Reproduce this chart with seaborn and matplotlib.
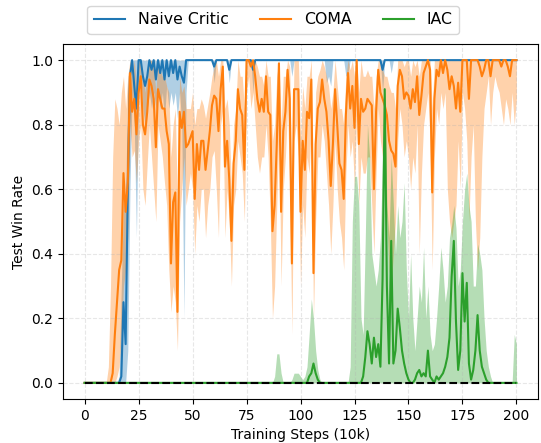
import numpy as np
import pandas as pd
import seaborn as sns
import matplotlib.pyplot as plt

# training steps (10k), one point per step
steps = np.arange(201)

labels = ['Naive Critic', 'COMA', 'IAC']
colors = ['#1f77b4', '#ff7f0e', '#2ca02c']

# Naive Critic
critic_mean = [0.0] * 17 + [
    0.02, 0.25, 0.12, 0.60,
    0.95, 1.0, 0.92, 0.85, 1.0, 1.0, 0.95, 0.92, 0.95, 1.0,
    0.97, 1.0, 0.94, 1.0, 0.96, 1.0, 0.94, 1.0, 0.95, 1.0,
    0.96, 1.0, 0.94, 0.98, 0.95, 0.93, 1.0,
] + [1.0] * 12 + [0.98] + [1.0] * 6 + [0.97] + [1.0] * 10 + [0.97] + [1.0] * 59 + [0.97] + [1.0] * 62
critic_lo = [0.0] * 17 + [
    0.0, 0.0, 0.0, 0.10,
    0.60, 0.90, 0.80, 0.45, 0.90, 0.95, 0.85, 0.80, 0.85, 0.90,
    0.85, 0.90, 0.85, 0.90, 0.85, 0.90, 0.82, 0.92, 0.85, 0.90,
    0.86, 0.90, 0.82, 0.90, 0.80, 0.20, 0.90,
] + [1.0] * 12 + [0.93] + [1.0] * 6 + [0.93] + [1.0] * 10 + [0.90] + [1.0] * 17 + [0.95] + [1.0] * 15 \
  + [0.93, 0.95, 0.92] + [1.0] * 6 + [0.95, 0.96] + [1.0] * 15 + [0.90] + [1.0] * 3 + [0.96] + [1.0] * 58
critic_hi = [0.0] * 16 + [0.02, 0.30, 0.55, 0.60, 0.90] + [1.0] * 180

# COMA
coma_mean = [0.0] * 13 + [
    0.03, 0.15, 0.25, 0.35, 0.38, 0.65, 0.53, 0.62,
    0.96, 0.84, 0.88, 0.77, 0.90, 0.95, 0.80, 0.77, 0.84, 0.94,
    0.92, 0.88, 0.73, 0.91, 0.88, 0.85, 0.85, 0.78, 0.74, 0.37,
    0.56, 0.59, 0.22, 0.84, 0.79, 0.84, 0.73, 0.74, 0.76, 0.78,
    0.57, 0.74, 0.66, 0.75, 0.75, 0.66, 0.72, 0.78, 0.86, 0.89,
    0.88, 0.78, 0.91, 0.98, 0.67, 0.75, 0.63, 0.44, 0.68, 0.75,
    0.91, 0.85, 0.83, 0.66, 1.00, 1.00, 0.98, 1.00, 0.95, 0.88,
    0.84, 0.88, 0.84, 0.95, 0.84, 0.83, 0.47, 0.55, 0.74, 0.99,
    0.53, 0.78, 0.84, 0.97, 0.88, 0.37, 0.91, 0.91, 0.91, 0.53,
    0.75, 0.66, 0.84, 0.82, 0.94, 0.34, 0.74, 0.85, 0.87, 0.94,
    0.88, 0.84, 0.75, 0.61, 0.74, 0.91, 0.80, 0.68, 0.66, 0.57,
    0.83, 0.96, 0.85, 0.92, 0.79, 1.00, 0.74, 0.88, 0.84, 0.85,
    0.88, 0.87, 0.86, 0.60, 0.84, 0.97, 0.90, 0.88, 0.86, 0.83,
    0.75, 0.72, 0.71, 0.67, 0.92, 0.97, 0.95, 0.88, 0.90, 0.89,
    0.85, 0.91, 0.87, 0.95, 0.83, 0.89, 0.96, 0.98, 1.00, 0.97,
    0.59, 0.88, 0.97, 0.95, 1.00, 0.96, 1.00, 0.97, 0.91, 0.95,
    0.92, 0.85, 0.93, 0.84, 1.00, 1.00, 1.00, 0.88, 1.00, 1.00,
    1.00, 1.00, 0.98, 0.95, 0.97, 1.00, 1.00, 0.95, 1.00, 1.00,
    1.00, 1.00, 0.98, 1.00, 1.00, 0.98, 0.95, 1.00, 1.00, 1.00,
]
coma_lo = [0.0] * 13 + [
    0.0, 0.0, 0.02, 0.05, 0.15, 0.30, 0.35, 0.45,
    0.80, 0.70, 0.72, 0.62, 0.75, 0.80, 0.60, 0.55, 0.68, 0.80,
    0.70, 0.60, 0.50, 0.80, 0.75, 0.70, 0.62, 0.55, 0.35, 0.22,
    0.30, 0.25, 0.10, 0.50, 0.60, 0.70, 0.55, 0.60, 0.65, 0.60,
    0.40, 0.55, 0.50, 0.60, 0.60, 0.45, 0.55, 0.60, 0.70, 0.72,
    0.60, 0.45, 0.80, 0.85, 0.45, 0.60, 0.50, 0.30, 0.55, 0.60,
    0.75, 0.70, 0.65, 0.50, 0.90, 0.95, 0.85, 0.90, 0.80, 0.70,
    0.65, 0.70, 0.70, 0.80, 0.70, 0.50, 0.20, 0.30, 0.55, 0.80,
    0.30, 0.60, 0.70, 0.85, 0.60, 0.15, 0.75, 0.80, 0.70, 0.30,
    0.55, 0.45, 0.70, 0.65, 0.80, 0.20, 0.50, 0.70, 0.70, 0.80,
    0.75, 0.65, 0.55, 0.40, 0.55, 0.75, 0.60, 0.50, 0.45, 0.35,
    0.65, 0.80, 0.70, 0.75, 0.60, 0.85, 0.55, 0.70, 0.65, 0.65,
    0.70, 0.70, 0.55, 0.40, 0.65, 0.85, 0.75, 0.70, 0.60, 0.50,
    0.35, 0.30, 0.40, 0.50, 0.75, 0.85, 0.80, 0.70, 0.75, 0.70,
    0.60, 0.70, 0.65, 0.80, 0.40, 0.65, 0.80, 0.85, 0.90, 0.75,
    0.35, 0.70, 0.85, 0.80, 0.90, 0.85, 0.90, 0.60, 0.50, 0.45,
    0.50, 0.55, 0.75, 0.60, 0.90, 0.85, 0.75, 0.50, 0.70, 0.80,
    0.50, 0.35, 0.45, 0.70, 0.85, 0.90, 0.95, 0.80, 0.90, 0.95,
    0.92, 0.90, 0.85, 0.80, 0.88, 0.85, 0.80, 0.90, 0.80, 0.88,
]
coma_hi = [0.0] * 11 + [0.05, 0.30] + [
    0.70, 0.88, 0.85, 0.80, 0.90, 0.95, 0.85, 0.95,
    1.0, 0.95, 1.0, 0.92, 1.0, 1.0, 0.95, 0.90, 0.97, 1.0,
    1.0, 0.98, 0.90, 1.0, 0.97, 0.95, 0.95, 0.92, 0.90, 0.70,
    0.80, 0.85, 0.55, 0.95, 0.90, 0.92, 0.85, 0.85, 0.85, 0.90,
    0.80, 0.85, 0.85, 0.88, 0.86, 0.82, 0.86, 0.90, 0.95, 0.98,
    1.0, 0.95, 1.0, 1.0, 0.85, 0.88, 0.80, 0.60, 0.80, 0.85,
    1.0, 0.95, 0.95, 0.85, 1.0, 1.0, 1.0, 1.0, 1.0, 0.98,
    0.95, 0.95, 0.92, 1.0, 0.95, 0.95, 0.75, 0.80, 0.95, 1.0,
    0.80, 0.95, 0.95, 1.0, 0.98, 0.60, 1.0, 1.0, 1.0, 0.75,
    0.92, 0.85, 0.95, 0.95, 1.0, 0.60, 0.90, 0.95, 0.97, 1.0,
    0.98, 0.95, 0.92, 0.85, 0.90, 1.0, 0.92, 0.85, 0.85, 0.80,
    0.95, 1.0, 0.97, 1.0, 0.95, 1.0, 0.90, 1.0, 0.95, 0.95,
    0.97, 0.95, 0.95, 0.85, 0.95, 1.0, 1.0, 0.97, 0.95, 0.95,
    0.92, 0.90, 0.90, 0.85, 1.0, 1.0, 1.0, 0.98, 1.0, 1.0,
    0.95, 1.0, 0.98, 1.0, 0.95, 1.0, 1.0, 1.0, 1.0, 1.0,
    0.85, 1.0, 1.0, 1.0, 1.0, 1.0, 1.0, 1.0, 1.0, 1.0,
] + [1.0] * 30

# IAC
iac_mean = [0.0] * 103 + [
    0.0, 0.02, 0.03, 0.06, 0.03, 0.01, 0.0, 0.0,
] + [0.0] * 18 + [
    0.02, 0.08, 0.16, 0.12, 0.06, 0.14, 0.08, 0.12, 0.05, 0.32, 0.91, 0.30,
    0.06, 0.44, 0.06, 0.10, 0.23, 0.17, 0.10, 0.06, 0.03, 0.01,
    0.0, 0.0, 0.01, 0.03, 0.04, 0.02, 0.03, 0.02, 0.10, 0.02,
    0.01, 0.0, 0.02, 0.01, 0.02, 0.03, 0.05, 0.08, 0.14, 0.33,
    0.44, 0.19, 0.04, 0.10, 0.34, 0.19, 0.31, 0.06, 0.01, 0.04,
    0.10, 0.21, 0.10, 0.05, 0.03, 0.01, 0.0, 0.0, 0.0, 0.0,
] + [0.0] * 10
iac_lo = [0.0] * 201
iac_hi = [0.0] * 88 + [
    0.02, 0.09, 0.09, 0.03, 0.0, 0.0, 0.0, 0.0, 0.01, 0.03, 0.03, 0.03, 0.02,
    0.01, 0.02, 0.05, 0.15, 0.26, 0.20, 0.10, 0.04, 0.01, 0.0,
] + [0.0] * 12 + [
    0.05, 0.50, 0.64, 0.64, 0.55, 0.20, 0.15, 0.45,
    0.80, 0.70, 0.40, 0.35, 0.30, 0.35, 0.45, 0.70, 0.91, 0.55,
    0.45, 0.70, 0.55, 0.40, 0.55, 0.45, 0.50, 0.62, 0.35, 0.20,
    0.40, 0.20, 0.10, 0.20, 0.30, 0.25, 0.42, 0.20, 0.30, 0.15,
    0.10, 0.12, 0.20, 0.30, 0.42, 0.35, 0.25, 0.30, 0.45, 0.49,
    0.55, 0.48, 0.30, 0.35, 0.50, 0.60, 0.65, 0.55, 0.50, 0.30,
    0.30, 0.43, 0.40, 0.35, 0.20, 0.10, 0.05, 0.02, 0.0, 0.0,
    0.0, 0.0, 0.0, 0.0, 0.0, 0.0, 0.0, 0.0, 0.15, 0.12,
]

series = [
    (critic_mean, critic_lo, critic_hi),
    (coma_mean, coma_lo, coma_hi),
    (iac_mean, iac_lo, iac_hi),
]

fig, ax = plt.subplots(figsize=(5.41, 4.43), dpi=100)
fig.subplots_adjust(left=0.1165, right=0.9945, bottom=0.0993, top=0.9007)

for name, color, (mean, lo, hi) in zip(labels, colors, series):
    df = pd.DataFrame({'step': steps, 'mean': mean, 'lo': lo, 'hi': hi})
    sns.lineplot(data=df, x='step', y='mean', ax=ax, color=color, label=name,
                 linewidth=1.5, errorbar=None)
    ax.fill_between(df['step'], df['lo'], df['hi'], color=color, alpha=0.35, linewidth=0)

ax.hlines(0, 0, 200, colors='black', linestyles='--', linewidth=1.5, zorder=5)

ax.set_xticks([0, 25, 50, 75, 100, 125, 150, 175, 200])
ax.set_xlabel('Training Steps (10k)')
ax.set_ylabel('Test Win Rate')
ax.grid(True, linestyle='--', alpha=0.3)

handles, names = ax.get_legend_handles_labels()
ax.get_legend().remove()
fig.legend(handles, names, loc='center', bbox_to_anchor=(0.505, 0.955), ncol=3, fontsize=11.3)

fig.savefig('out.png', dpi=100)
